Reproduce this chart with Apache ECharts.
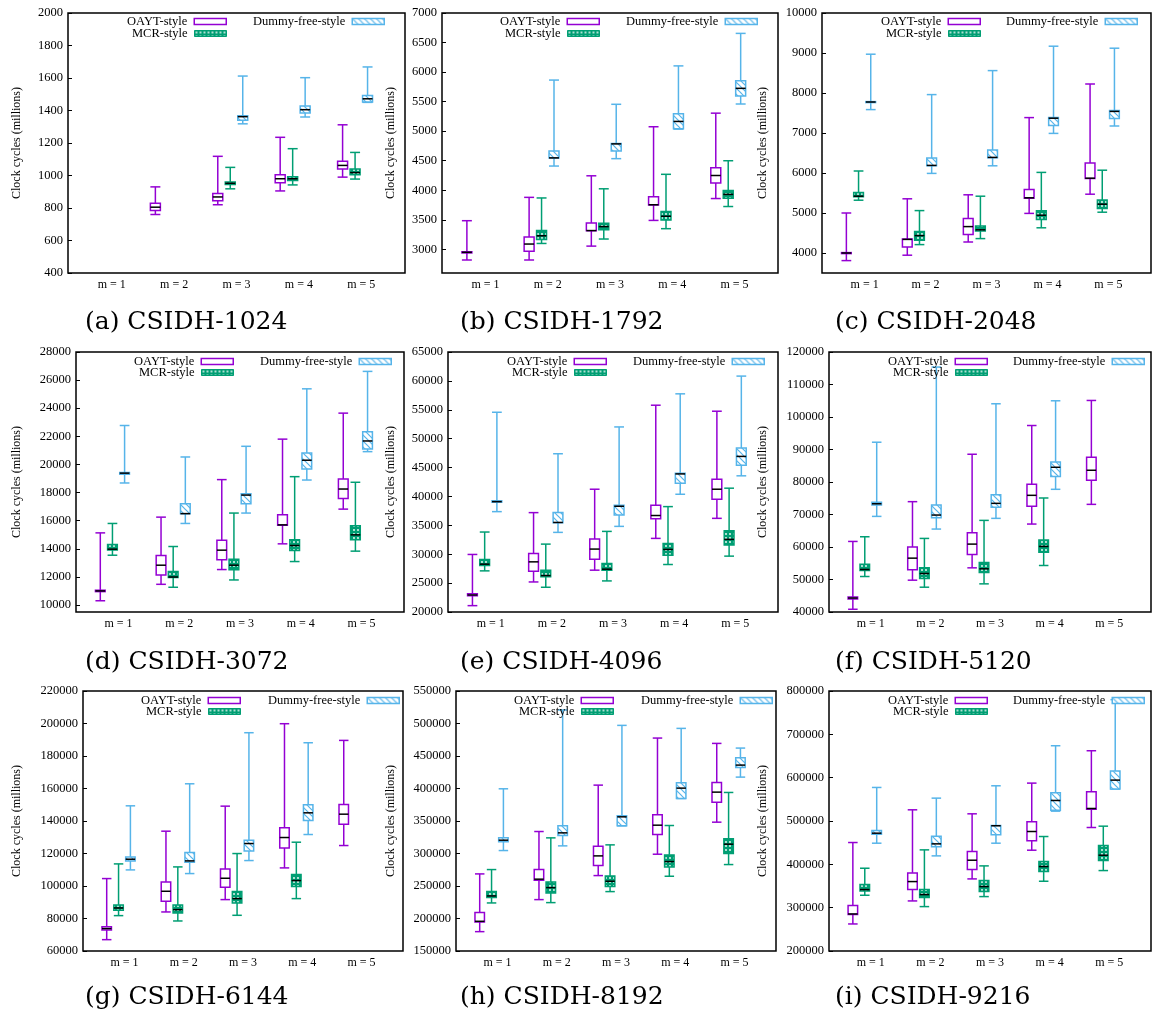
<!DOCTYPE html>
<html><head><meta charset="utf-8">
<script src="https://cdn.jsdelivr.net/npm/echarts@6/dist/echarts.min.js"></script>
<style>html,body{margin:0;padding:0;background:#fff}#c{width:1155px;height:1019px}</style>
</head><body><div id="c"></div>
<script>
// ---------- DATA ----------
const categories = ['m = 1', 'm = 2', 'm = 3', 'm = 4', 'm = 5'];
const seriesNames = ['OAYT-style', 'MCR-style', 'Dummy-free-style'];
const captions = ['(a) CSIDH-1024', '(b) CSIDH-1792', '(c) CSIDH-2048',
                  '(d) CSIDH-3072', '(e) CSIDH-4096', '(f) CSIDH-5120',
                  '(g) CSIDH-6144', '(h) CSIDH-8192', '(i) CSIDH-9216'];
const yAxisTitle = 'Clock cycles (millions)';
// each entry: [low whisker, Q1, median, Q3, high whisker], one per m
const oayt1024  = [null, [760,785,805,830,930], [820,845,868,890,1118], [905,955,980,1005,1235], [990,1040,1062,1088,1312]];
const mcr1024   = [null, null, [918,945,952,960,1050], [942,970,980,992,1165], [978,1005,1018,1040,1142]];
const dummy1024 = [null, null, [1318,1340,1362,1368,1612], [1360,1385,1405,1428,1602], [1450,1452,1472,1492,1668]];

const oayt1792  = [[2820,2940,2950,2960,3485], [2820,2970,3090,3210,3880], [3055,3315,3318,3445,4245], [3490,3750,3755,3890,5075], [3860,4125,4250,4380,5305]];
const mcr1792   = [null, [3100,3165,3230,3320,3870], [3175,3330,3385,3440,4025], [3350,3495,3560,3640,4270], [3725,3865,3930,3995,4500]];
const dummy1792 = [null, [4410,4545,4548,4665,5865], [4535,4665,4785,4790,5455], [5035,5040,5165,5295,6105], [5460,5595,5725,5855,6655]];

const oayt2048  = [[3810,3990,4000,4010,5000], [3945,4150,4340,4350,5355], [4275,4460,4660,4860,5455], [4990,5370,5380,5590,7385], [5470,5865,5870,6250,8225]];
const mcr2048   = [[5320,5405,5420,5510,6050], [4210,4320,4435,4535,5060], [4360,4550,4580,4675,5420], [4630,4840,4945,5055,6015], [5020,5110,5220,5325,6070]];
const dummy2048 = [[7585,7765,7775,7785,8970], [5990,6180,6190,6375,7960], [6180,6380,6390,6575,8560], [6990,7190,7370,7390,9170], [7175,7365,7540,7560,9120]];

const oayt3072  = [[10300,10950,11000,11050,15130], [11470,12140,12830,13520,16250], [12520,13210,13900,14610,18920], [14350,15680,15700,16420,21800], [16820,17580,18250,18960,23650]];
const mcr3072   = [[13540,13920,13970,14300,15800], [11260,11950,11990,12380,14160], [11780,12500,12830,13260,16540], [13090,13880,14230,14640,19130], [13830,14640,14990,15630,18730]];
const dummy3072 = [[18680,19300,19380,19420,22770], [15800,16490,16500,17200,20530], [16540,17200,17820,17920,21290], [18890,19680,20300,20820,25380], [20910,21100,21670,22320,26620]];

const oayt4096  = [[21100,22800,22950,23150,29960], [25200,27060,28680,30130,37200], [27240,29150,30890,32620,41250], [32740,36160,36700,38470,55790], [36210,39520,41250,42990,54750]];
const mcr4096   = [[27120,28050,28280,29090,33840], [24280,26080,26310,27240,31750], [25380,27240,27410,28390,33950], [28220,29840,30830,31870,38240], [29670,31580,32570,34070,41430]];
const dummy4096 = [[37370,39000,39100,39250,54570], [33780,35460,35500,37200,47390], [34820,36790,38300,38470,52030], [40380,42300,43900,44030,57760], [43570,45420,46930,48380,60830]];

const oayt5120  = [[40840,44000,44300,44600,61710], [49790,52970,56570,59970,73950], [53590,57700,60890,64390,88540], [67060,72510,75900,79290,97380], [73120,80530,83610,87620,105090]];
const mcr5120   = [[50920,52770,53080,54720,63150], [47630,50300,51840,53590,62640], [48660,52150,53280,55240,68190], [54310,58420,60170,62120,75080], null];
const dummy5120 = [[69420,72900,73300,73800,92240], [65520,69010,69830,72920,115370], [68810,72200,73430,76100,104070], [77750,81660,84530,86180,104990], null];

const oayt6144  = [[66980,73000,73800,75000,104570], [84030,90600,96760,102510,133730], [91630,99230,104770,110520,149140], [111140,123460,129830,135790,199870], [124900,138000,144200,150160,189600]];
const mcr6144   = [[81770,85050,86490,88340,113600], [78480,83410,85460,88340,111750], [81970,89570,92240,96560,119970], [92240,99640,103330,107030,126950], null];
const dummy6144 = [[109910,115450,116480,117920,149340], [107650,114630,115450,120590,162900], [115660,121610,126130,128190,194330], [131680,140310,145030,149960,188160], null];

const oayt8192  = [[179780,194660,195690,209040,268600], [229060,258850,260500,275280,333820], [266030,281440,296330,311220,405190], [298900,329200,343570,359490,477600], [348200,379010,394410,409300,469380]];
const mcr8192   = [[223930,232140,234710,241390,275280], [224440,239330,247550,256280,324060], [241390,249090,257310,265520,313280], [265010,279390,287600,297870,343060], [282980,299930,314300,322520,393900]];
const dummy8192 = [[304550,317900,320470,324060,399550], [311740,327650,331760,342550,520730], [342550,342550,356410,357950,497110], [384650,384650,400570,408790,492490], [417520,432410,436000,447300,462190]];

const oayt9216  = [[262400,283970,285510,304760,450330], [315540,341730,360210,380240,525810], [366370,387930,409500,429520,516570], [432610,454180,475750,498080,587420], [484990,527350,528890,567400,662140]];
const mcr9216   = [[328640,338650,341730,353280,391020], [302450,323250,330180,341730,433390], [325550,337110,348680,362520,396420], [360980,383320,394880,406430,464190], [385620,408730,421060,443390,488070]];
const dummy9216 = [[448790,469580,471900,478060,577410], [419520,440320,447250,464960,552760], [448790,468040,489000,489610,581260], [522730,525040,547370,565090,673690], [573560,573560,594360,615150,780000]];

// y tick labels and axis ranges
const ticks1024 = [400, 600, 800, 1000, 1200, 1400, 1600, 1800, 2000];
const ticks1792 = [3000, 3500, 4000, 4500, 5000, 5500, 6000, 6500, 7000];
const ticks2048 = [4000, 5000, 6000, 7000, 8000, 9000, 10000];
const ticks3072 = [10000, 12000, 14000, 16000, 18000, 20000, 22000, 24000, 26000, 28000];
const ticks4096 = [20000, 25000, 30000, 35000, 40000, 45000, 50000, 55000, 60000, 65000];
const ticks5120 = [40000, 50000, 60000, 70000, 80000, 90000, 100000, 110000, 120000];
const ticks6144 = [60000, 80000, 100000, 120000, 140000, 160000, 180000, 200000, 220000];
const ticks8192 = [150000, 200000, 250000, 300000, 350000, 400000, 450000, 500000, 550000];
const ticks9216 = [200000, 300000, 400000, 500000, 600000, 700000, 800000];
const yMins = [400, 2600, 3500, 9500, 20000, 40000, 60000, 150000, 200000];
const yMaxs = [2000, 7000, 10000, 28000, 65000, 120000, 220000, 550000, 800000];

const panelData = [
  [oayt1024, mcr1024, dummy1024, ticks1024],
  [oayt1792, mcr1792, dummy1792, ticks1792],
  [oayt2048, mcr2048, dummy2048, ticks2048],
  [oayt3072, mcr3072, dummy3072, ticks3072],
  [oayt4096, mcr4096, dummy4096, ticks4096],
  [oayt5120, mcr5120, dummy5120, ticks5120],
  [oayt6144, mcr6144, dummy6144, ticks6144],
  [oayt8192, mcr8192, dummy8192, ticks8192],
  [oayt9216, mcr9216, dummy9216, ticks9216]
];

// ---------- LAYOUT / STYLE ----------
const grids = [ // left, top, width, height
  [68, 13, 337, 260], [442, 13, 336, 260], [822, 13, 329, 260],
  [76, 352, 328, 260], [448, 352, 330, 260], [829, 352, 322, 260],
  [83, 691, 320, 260], [456, 691, 320, 260], [829, 691, 322, 260]
];
const nameOffsets = [52, 52, 60, 60, 58, 67, 67, 66, 67];
const captionPos = [[85, 310], [460, 310], [835, 310], [85, 650], [460, 650], [835, 650], [85, 985], [460, 985], [835, 985]];
const legendPos = [ // oayt/mcr icon right edge, dummy icon right edge, row1 center y, row2 center y
  [227, 385, 22, 34], [600, 758, 22, 34], [981, 1138, 22, 34],
  [234, 392, 362, 373], [607, 765, 362, 373], [988, 1145, 362, 373],
  [241, 400, 701, 712], [614, 773, 701, 712], [988, 1145, 701, 712]
];
const colors = ['#9400d3', '#009e73', '#56b4e9'];
const offsets = [-0.3, -0.1, 0.1];
const BOXW = 0.16;
const serif = 'Liberation Serif';

function makeCanvas(w, h, draw) {
  const c = document.createElement('canvas'); c.width = w; c.height = h;
  draw(c.getContext('2d')); return c;
}
const mcrCanvas = makeCanvas(4, 4, ctx => {
  ctx.fillStyle = '#009e73'; ctx.fillRect(0, 0, 4, 4);
  ctx.fillStyle = '#ffffff'; ctx.beginPath(); ctx.arc(2, 2, 0.9, 0, Math.PI * 2); ctx.fill();
});
const dummyCanvas = makeCanvas(6, 6, ctx => {
  ctx.fillStyle = '#ffffff'; ctx.fillRect(0, 0, 6, 6);
  ctx.strokeStyle = '#56b4e9'; ctx.lineWidth = 1.2;
  for (let k = -1; k <= 1; k++) { ctx.beginPath(); ctx.moveTo(-1, -1 + 6 * k); ctx.lineTo(7, 7 + 6 * k); ctx.stroke(); }
});
const fills = ['#ffffff', { image: mcrCanvas, repeat: 'repeat' }, { image: dummyCanvas, repeat: 'repeat' }];

function makeRender(s) {
  return function (params, api) {
    const x = api.value(0);
    const pLow = api.coord([x, api.value(1)]);
    const pQ1 = api.coord([x, api.value(2)]);
    const pMed = api.coord([x, api.value(3)]);
    const pQ3 = api.coord([x, api.value(4)]);
    const pHigh = api.coord([x, api.value(5)]);
    const w = api.size([BOXW, 0])[0];
    const cx = pLow[0];
    const ls = { stroke: colors[s], lineWidth: 1.5 };
    return {
      type: 'group', children: [
        { type: 'line', shape: { x1: cx, y1: pHigh[1], x2: cx, y2: pQ3[1] }, style: ls },
        { type: 'line', shape: { x1: cx, y1: pQ1[1], x2: cx, y2: pLow[1] }, style: ls },
        { type: 'line', shape: { x1: cx - w / 2, y1: pHigh[1], x2: cx + w / 2, y2: pHigh[1] }, style: ls },
        { type: 'line', shape: { x1: cx - w / 2, y1: pLow[1], x2: cx + w / 2, y2: pLow[1] }, style: ls },
        { type: 'rect', shape: { x: cx - w / 2, y: pQ3[1], width: w, height: Math.max(pQ1[1] - pQ3[1], 1) },
          style: { fill: fills[s], stroke: colors[s], lineWidth: 1.5 } },
        { type: 'line', shape: { x1: cx - w / 2, y1: pMed[1], x2: cx + w / 2, y2: pMed[1] }, style: { stroke: '#000', lineWidth: 1.5 } }
      ]
    };
  };
}

const option = { animation: false, backgroundColor: '#fff', grid: [], xAxis: [], yAxis: [], series: [], legend: [], title: [] };
const legendIcons = [
  { color: '#ffffff', borderColor: colors[0], borderWidth: 1.5 },
  { color: fills[1], borderColor: colors[1], borderWidth: 1 },
  { color: fills[2], borderColor: colors[2], borderWidth: 1.5 }
];

panelData.forEach((pd, p) => {
  const g = grids[p];
  option.grid.push({ left: g[0], top: g[1], width: g[2], height: g[3], show: true, borderColor: '#000', borderWidth: 1.5, backgroundColor: 'transparent' });
  option.xAxis.push({
    type: 'value', gridIndex: p, min: 0.3, max: 5.7,
    axisLine: { show: false }, axisTick: { show: false }, splitLine: { show: false },
    axisLabel: { customValues: [1, 2, 3, 4, 5], formatter: v => categories[Math.round(v) - 1], margin: 6,
      fontFamily: serif, fontSize: 12, color: '#000' }
  });
  option.yAxis.push({
    type: 'value', gridIndex: p, min: yMins[p], max: yMaxs[p],
    name: yAxisTitle, nameLocation: 'middle', nameGap: nameOffsets[p] - 7,
    nameTextStyle: { fontFamily: serif, fontSize: 12, color: '#000' },
    axisLine: { show: false }, splitLine: { show: false },
    axisTick: { customValues: pd[3], inside: true, length: 4, lineStyle: { color: '#000', width: 1 } },
    axisLabel: { customValues: pd[3], formatter: v => String(v), margin: 5, fontFamily: serif, fontSize: 12.5, color: '#000' }
  });
  for (let s = 0; s < 3; s++) {
    const arr = pd[s];
    const data = [];
    arr.forEach((v, i) => { if (v) data.push([i + 1 + offsets[s], v[0], v[1], v[2], v[3], v[4]]); });
    option.series.push({
      type: 'custom', name: seriesNames[s], xAxisIndex: p, yAxisIndex: p,
      itemStyle: { color: colors[s] },
      encode: { x: 0, y: [1, 2, 3, 4, 5] },
      renderItem: makeRender(s), data: data
    });
  }
  const lp = legendPos[p];
  const legendBase = { orient: 'horizontal', align: 'right', itemWidth: 32, itemHeight: 6, itemGap: 0, padding: 0,
    selectedMode: false, textStyle: { fontFamily: serif, fontSize: 12.5, color: '#000', padding: [0, 2, 0, 0] } };
  option.legend.push(Object.assign({}, legendBase, { right: 1155 - lp[0], top: lp[2] - 7,
    data: [{ name: seriesNames[0], icon: 'rect', itemStyle: legendIcons[0] }] }));
  option.legend.push(Object.assign({}, legendBase, { right: 1155 - lp[0], top: lp[3] - 7,
    data: [{ name: seriesNames[1], icon: 'rect', itemStyle: legendIcons[1] }] }));
  option.legend.push(Object.assign({}, legendBase, { right: 1155 - lp[1], top: lp[2] - 7,
    data: [{ name: seriesNames[2], icon: 'rect', itemStyle: legendIcons[2] }] }));
  option.title.push({ text: captions[p], left: captionPos[p][0], top: captionPos[p][1], padding: 0,
    textStyle: { fontFamily: 'DejaVu Serif', fontSize: 25, fontWeight: 'normal', color: '#000' } });
});

const chart = echarts.init(document.getElementById('c'), null, { renderer: 'canvas' });
chart.setOption(option);
</script>
</body></html>
